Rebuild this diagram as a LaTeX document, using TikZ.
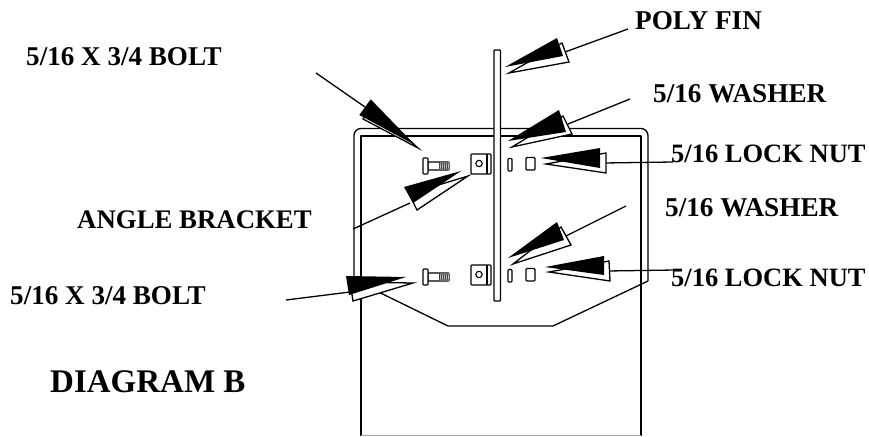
\documentclass[tikz,border=0pt]{standalone}
\usepackage{fontspec}
\setmainfont{Liberation Serif}
\tikzset{
  part/.style={draw=black,line width=1.1pt,fill=white},
  frameline/.style={draw=black,line width=1.3pt,line join=round},
  leader/.style={draw=black,line width=1.3pt},
  lbl/.style={anchor=base west,inner sep=0pt,font=\bfseries\fontsize{#1}{#1}\selectfont},
  lbl/.default=26.8,
  title/.style={anchor=base west,inner sep=0pt,font=\bfseries\fontsize{33}{33}\selectfont},
  wedgeback/.style={draw=black,line width=1.3pt,fill=white,line join=miter},
  wedgefront/.style={fill=black,draw=none},
}
% #1 leader from, #2 leader to, #3-#5 white wedge base1, base2, tip; #6-#8 black wedge
\newcommand{\pointer}[8]{%
  \draw[leader] #1 -- #2;
  \draw[wedgeback] #3 -- #4 -- #5 -- cycle;
  \fill[wedgefront] #6 -- #7 -- #8 -- cycle;
}
\newcommand{\hardware}[1]{%
  \begin{scope}[yshift=#1]
    \draw[part,rounded corners=0.6pt] (428,162) rectangle (449,170);
    \draw[part,rounded corners=0.8pt] (423,158) rectangle (428,174);
    \fill[black!75] (439,162) rectangle (449,170);
    \foreach \tx in {440,442,444,446,448}{\draw[white,line width=0.5pt] (\tx,170) -- (\tx+1,162);}
    \draw[part,rounded corners=0.8pt] (471,154) rectangle (491,174);
    \draw[black,line width=1.1pt] (487,154) -- (487,174);
    \draw[black,line width=1.1pt] (479,163.5) circle (3.2);
    \draw[part,rounded corners=0.8pt] (508,158.5) rectangle (512,171);
    \draw[part,rounded corners=1pt] (526,157.5) rectangle (535,170);
  \end{scope}
}
\begin{document}
\begin{tikzpicture}[x=1pt,y=-1pt]
\useasboundingbox (0,0) rectangle (869,436);
\fill[white] (0,0) rectangle (869,436);
% housing
\draw[frameline,rounded corners=7pt] (354,280) -- (354,128.5) -- (648,128.5) -- (648,281);
\draw[frameline] (354,280) -- (448,326) -- (553,326) -- (648,281);
\draw[frameline] (361,435.5) -- (361,136) -- (641,136) -- (641,435.5);
\draw[draw=black!35,line width=0.8pt] (361,435.5) -- (641,435.5);
% fin
\draw[part,rounded corners=0.8pt,line width=1.3pt] (494,50) rectangle (500.5,301);
% hardware
\hardware{0pt}
\hardware{-111pt}
% pointers
\coordinate (finEnd) at (628,29);
\coordinate (w1End) at (630,99);
\coordinate (w2End) at (626,206);
\coordinate (boltAEnd) at (316,73);
\coordinate (boltBEnd) at (286,300);
\coordinate (angEnd) at (353,229);
\coordinate (nutAEnd) at (673,162);
\coordinate (nutBEnd) at (675,270);
\node[lbl=27.2] (fin) at (635,30) {POLY FIN};
\node[lbl=27.1] (boltA) at (26,66) {5/16 X 3/4 BOLT};
\node[lbl=27.2] (washA) at (653,102) {5/16 WASHER};
\node[lbl=26.5] (nutA) at (671,162) {5/16 LOCK NUT};
\node[lbl=27.2] (washB) at (665,216) {5/16 WASHER};
\node[lbl=26.8] (ang) at (77,228) {ANGLE BRACKET};
\node[lbl=26.5] (nutB) at (671,286) {5/16 LOCK NUT};
\node[lbl=27.1] (boltB) at (10,304) {5/16 X 3/4 BOLT};
\node[title] (diag) at (50,392) {DIAGRAM B};
\pointer{(finEnd)}{(565,52)}{(562,43)}{(569,62)}{(509,73)}{(557,38)}{(563,56)}{(505,67)}
\pointer{(w1End)}{(568,124)}{(563,116)}{(572,134)}{(512,147)}{(559,110)}{(566,132)}{(508,141)}
\pointer{(nutAEnd)}{(604,163)}{(606,153)}{(606,173)}{(546,164)}{(600,148)}{(600,168)}{(541,158)}
\pointer{(boltAEnd)}{(365,107)}{(372,106)}{(363,119)}{(418,148)}{(370.7,99.3)}{(359.3,115)}{(415,145)}
\pointer{(angEnd)}{(410,203)}{(409,194)}{(417,210)}{(468,176)}{(404,187)}{(413,203)}{(461,171)}
\pointer{(w2End)}{(566,236)}{(561,227)}{(571,245)}{(513,264)}{(557,222)}{(564,240)}{(508,258)}
\pointer{(nutBEnd)}{(607,271)}{(609,261)}{(610,281)}{(549,272)}{(604,256)}{(604,275)}{(545,267)}
\pointer{(boltBEnd)}{(350,292)}{(350,282)}{(353,301)}{(413,283)}{(346,276)}{(349,295)}{(406,277)}
\end{tikzpicture}
\end{document}
